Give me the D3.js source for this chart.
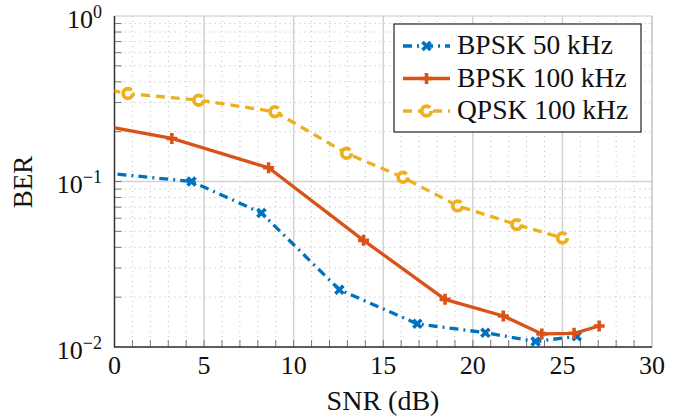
<html>
<script src='https://d3js.org/d3.v7.min.js'></script>
<style>
body { margin: 0; background: white; }
text { font-family: 'Liberation Serif', 'Times New Roman', serif; fill: #111; }
</style>
<body onload='init()'>
<svg width=689 height=417></svg>
<script>
// values (first points lie left of the axis and are clipped)
var seriesNames = ["BPSK 50 kHz", "BPSK 100 kHz", "QPSK 100 kHz"]
var snrBpsk50 = [-1, 4.3, 8.2, 12.55, 16.9, 20.7, 23.5, 25.8]
var berBpsk50 = [0.114, 0.100, 0.0646, 0.0222, 0.0138, 0.0122, 0.0108, 0.0116]
var snrBpsk100 = [-1, 3.2, 8.6, 13.9, 18.45, 21.7, 23.85, 25.65, 27.05]
var berBpsk100 = [0.221, 0.182, 0.121, 0.0441, 0.0194, 0.0154, 0.0120, 0.0121, 0.0134]
var snrQpsk100 = [-1, 0.75, 4.7, 8.95, 12.95, 16.1, 19.15, 22.45, 25.0]
var berQpsk100 = [0.37, 0.340, 0.310, 0.264, 0.148, 0.106, 0.0712, 0.0549, 0.0456]
var xTicks = [0, 5, 10, 15, 20, 25, 30]
var yTicks = [1e-2, 1e-1, 1e0]
var yTickExp = ["\u22122", "\u22121", "0"]

function init() {
var svg = d3.select("svg")
var x = d3.scaleLinear().domain([0, 30]).range([114.5, 652])
var y = d3.scaleLog().domain([1e-2, 1]).range([347, 16])

// minor grid
var xMinor = d3.range(1, 30).filter(function(d){ return d % 5 != 0 })
var yMinor = []
for (var e = -2; e < 0; e++) for (var m = 2; m < 10; m++) yMinor.push(m * Math.pow(10, e))
svg.append("g").selectAll("line").data(xMinor).enter().append("line")
  .attr("x1", function(d){ return x(d) }).attr("x2", function(d){ return x(d) })
  .attr("y1", y(1)).attr("y2", y(1e-2))
  .attr("stroke", "#bbb").attr("stroke-width", 1).attr("stroke-dasharray", "1 4")
svg.append("g").selectAll("line").data(yMinor).enter().append("line")
  .attr("y1", function(d){ return y(d) }).attr("y2", function(d){ return y(d) })
  .attr("x1", x(0)).attr("x2", x(30))
  .attr("stroke", "#bbb").attr("stroke-width", 1).attr("stroke-dasharray", "1 4")
// major grid
svg.append("g").selectAll("line").data(xTicks.slice(1)).enter().append("line")
  .attr("x1", function(d){ return x(d) }).attr("x2", function(d){ return x(d) })
  .attr("y1", y(1)).attr("y2", y(1e-2))
  .attr("stroke", "#d2d2d2").attr("stroke-width", 1.5)
svg.append("g").selectAll("line").data(yTicks.slice(0, 2)).enter().append("line")
  .attr("y1", function(d){ return y(d) }).attr("y2", function(d){ return y(d) })
  .attr("x1", x(0)).attr("x2", x(30))
  .attr("stroke", "#d2d2d2").attr("stroke-width", 1.5)

// ticks inside the axes
svg.append("g").selectAll("line").data(d3.range(1, 30)).enter().append("line")
  .attr("x1", function(d){ return x(d) }).attr("x2", function(d){ return x(d) })
  .attr("y1", y(1e-2)).attr("y2", y(1e-2) - 7)
  .attr("stroke", "#777").attr("stroke-width", 1)
svg.append("g").selectAll("line").data(yMinor.concat([0.1])).enter().append("line")
  .attr("y1", function(d){ return y(d) }).attr("y2", function(d){ return y(d) })
  .attr("x1", x(0)).attr("x2", x(0) + 7)
  .attr("stroke", "#777").attr("stroke-width", 1)

// frame
svg.append("path").attr("d", "M" + x(0) + "," + y(1) + "H" + x(30) + "V" + y(1e-2))
  .attr("fill", "none").attr("stroke", "#c8c8c8").attr("stroke-width", 1.2)
svg.append("path").attr("d", "M" + x(0) + "," + y(1) + "V" + y(1e-2) + "H" + x(30))
  .attr("fill", "none").attr("stroke", "#333").attr("stroke-width", 1.5)

// tick labels
svg.append("g").selectAll("text").data(xTicks).enter().append("text")
  .attr("x", function(d){ return x(d) }).attr("y", 374)
  .attr("text-anchor", "middle").attr("font-size", 26).text(function(d){ return d })
var yl = svg.append("g").selectAll("text").data(yTicks).enter().append("text")
  .attr("x", 102).attr("y", function(d){ return y(d) + 11.5 })
  .attr("text-anchor", "end").attr("font-size", 26)
yl.append("tspan").text("10")
yl.append("tspan").attr("dy", -10).attr("font-size", 18).text(function(d, i){ return yTickExp[i] })

svg.append("text").attr("x", 383).attr("y", 410).attr("text-anchor", "middle")
  .attr("font-size", 28).text("SNR (dB)")
svg.append("text").attr("transform", "translate(32,182) rotate(-90)").attr("text-anchor", "middle")
  .attr("font-size", 27).text("BER")

// series
var series = [
  {sx: snrBpsk50, sy: berBpsk50, color: "#0072BD", dash: "9 5 2 5", mark: "x"},
  {sx: snrBpsk100, sy: berBpsk100, color: "#D95319", dash: null, mark: "+"},
  {sx: snrQpsk100, sy: berQpsk100, color: "#EDB120", dash: "9 6", mark: "o"}
]
svg.append("clipPath").attr("id", "clip").append("rect")
  .attr("x", x(0)).attr("y", y(1)).attr("width", x(30) - x(0)).attr("height", y(1e-2) - y(1))
var plot = svg.append("g").attr("clip-path", "url(#clip)")
var line = d3.line().x(function(d){ return x(d[0]) }).y(function(d){ return y(d[1]) })

function marker(g, kind, color, cx, cy) {
  if (kind == "o") {
    g.append("circle").attr("cx", cx).attr("cy", cy).attr("r", 4.8)
      .attr("fill", "white").attr("stroke", color).attr("stroke-width", 3.8)
      .attr("stroke-dasharray", "26 4")
  } else {
    var s = kind == "x" ? 4 : 5.5
    var p = kind == "x"
      ? "M" + (cx - s) + "," + (cy - s) + "L" + (cx + s) + "," + (cy + s) + "M" + (cx - s) + "," + (cy + s) + "L" + (cx + s) + "," + (cy - s)
      : "M" + (cx - s) + "," + cy + "H" + (cx + s) + "M" + cx + "," + (cy - s) + "V" + (cy + s)
    g.append("path").attr("d", p).attr("stroke", color).attr("stroke-width", 3.6).attr("fill", "none")
  }
}

series.forEach(function(s) {
  var pts = s.sx.map(function(v, i){ return [v, s.sy[i]] })
  plot.append("path").datum(pts).attr("d", line)
    .attr("fill", "none").attr("stroke", s.color).attr("stroke-width", 3.3)
    .attr("stroke-dasharray", s.dash)
  pts.forEach(function(p){ marker(plot, s.mark, s.color, x(p[0]), y(p[1])) })
})

// legend
var lg = svg.append("g")
lg.append("rect").attr("x", 394).attr("y", 24).attr("width", 247).attr("height", 108)
  .attr("fill", "white").attr("stroke", "#222").attr("stroke-width", 1.2)
series.forEach(function(s, i) {
  var ly = 46 + i * 32.5
  lg.append("line").attr("x1", 403).attr("x2", 450).attr("y1", ly).attr("y2", ly)
    .attr("stroke", s.color).attr("stroke-width", 3.3).attr("stroke-dasharray", s.dash)
  marker(lg, s.mark, s.color, 426.5, ly)
  lg.append("text").attr("x", 457).attr("y", ly + 8).attr("font-size", 27.5).text(seriesNames[i])
})
}
</script>
</body>
</html>
